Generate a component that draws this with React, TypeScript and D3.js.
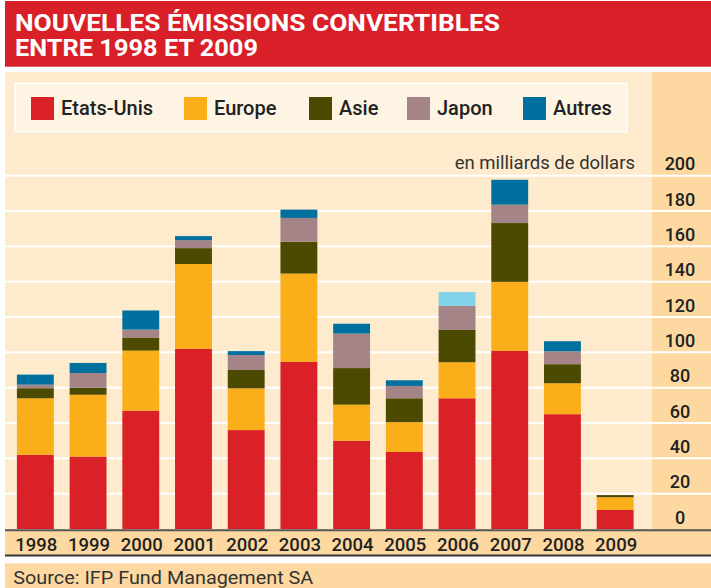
import React from "react";
import * as d3 from "d3";

const years = ["1998", "1999", "2000", "2001", "2002", "2003", "2004", "2005", "2006", "2007", "2008", "2009"];
const etatsUnis = [42, 41, 67, 102, 56, 94.6, 50, 43.6, 74, 100.8, 65, 10.8];
const europe = [32, 35, 34, 48, 23.6, 50, 20.4, 16.9, 20.4, 39.1, 17.5, 7.2];
const asie = [5.7, 4, 7.4, 9, 10.4, 18, 20.7, 13.5, 18.3, 33.3, 10.8, 1.2];
const japon = [2, 8.3, 4.5, 4.5, 8.5, 13.5, 19.5, 7, 13.6, 10.4, 7.3, 0];
const autres = [5.7, 5.7, 10.8, 2.3, 2.2, 4.7, 5.6, 3.2, 7.8, 14.1, 5.7, 0];
const seriesNames = ["Etats-Unis", "Europe", "Asie", "Japon", "Autres"];
const yTicks = [0, 20, 40, 60, 80, 100, 120, 140, 160, 180, 200];
const lightAutresYears = ["2006"];

const colors: Record<string, string> = {
  "Etats-Unis": "#da2128",
  Europe: "#f9ae1a",
  Asie: "#4b4a00",
  Japon: "#a48486",
  Autres: "#00719f",
};
const lightAutres = "#80d2e8";

const W = 711;
const H = 588;
const FONT = "Roboto, 'DejaVu Sans', sans-serif";

export default function App() {
  const table = years.map((y, i) => ({
    year: y,
    "Etats-Unis": etatsUnis[i],
    Europe: europe[i],
    Asie: asie[i],
    Japon: japon[i],
    Autres: autres[i],
  }));
  const stacked = d3.stack<any>().keys(seriesNames)(table);

  const x = d3.scaleBand<string>().domain(years).range([9, 641.5]).paddingInner(0.3).paddingOuter(0.15);
  const y = d3.scaleLinear().domain([0, 200]).range([529, 175.7]);

  const legendX = [31, 184, 309, 407, 523];

  return (
    <svg width={W} height={H} style={{ position: "absolute", left: 0, top: 0, display: "block" }} fontFamily={FONT}>
      <rect x={0} y={0} width={W} height={H} fill="#ffffff" />
      {/* title band */}
      <rect x={5} y={1} width={W - 5} height={65.7} fill="#d92029" />
      <text x={15} y={30.7} fill="#fff" fontWeight={700} fontSize={23.5} textLength={485} lengthAdjust="spacingAndGlyphs">
        NOUVELLES ÉMISSIONS CONVERTIBLES
      </text>
      <text x={15} y={56} fill="#fff" fontWeight={700} fontSize={23.5} textLength={243} lengthAdjust="spacingAndGlyphs">
        ENTRE 1998 ET 2009
      </text>

      {/* chart background */}
      <rect x={5} y={72} width={W - 5} height={458} fill="#feebcd" />
      <rect x={652} y={72} width={W - 652} height={458} fill="#fdd9a1" />

      {/* legend */}
      <rect x={15} y={83.3} width={612} height={48.4} fill="#fef4e3" stroke="#ffffff" strokeWidth={1.5} />
      {seriesNames.map((s, i) => (
        <g key={s}>
          <rect x={legendX[i]} y={97} width={23} height={23} fill={colors[s]} />
          <text x={legendX[i] + 30} y={114.5} fontSize={20} fill="#222" fontWeight={500}>
            {s}
          </text>
        </g>
      ))}

      {/* gridlines */}
      {yTicks.filter((t) => t > 0).map((t) => (
        <line key={t} x1={5} x2={W} y1={y(t)} y2={y(t)} stroke="#ffffff" strokeWidth={2} />
      ))}

      <text x={635} y={169} textAnchor="end" fontSize={18.5} fill="#333">
        en milliards de dollars
      </text>

      {/* bars */}
      {stacked.map((layer) => (
        <g key={layer.key}>
          {layer.map((d: any, i: number) => {
            const yr = years[i];
            const h = y(d[0]) - y(d[1]);
            if (h <= 0) return null;
            const fill = layer.key === "Autres" && lightAutresYears.includes(yr) ? lightAutres : colors[layer.key];
            return <rect key={yr} x={x(yr)} y={y(d[1])} width={x.bandwidth()} height={h} fill={fill} />;
          })}
        </g>
      ))}

      {/* y tick labels */}
      {yTicks.map((t) => (
        <text key={t} x={680} y={y(t) - 5.5} textAnchor="middle" fontSize={18} fontWeight={500} fill="#222">
          {t}
        </text>
      ))}

      {/* x axis band */}
      <rect x={5} y={530} width={W - 5} height={25} fill="#fdd9a1" />
      <line x1={5} x2={W} y1={530.2} y2={530.2} stroke="#555" strokeWidth={2} />
      <line x1={5} x2={W} y1={555.5} y2={555.5} stroke="#333" strokeWidth={2.2} />
      {years.map((yr) => (
        <text key={yr} x={(x(yr) as number) + x.bandwidth() / 2 + 1} y={550.5} textAnchor="middle" fontSize={18.5} fontWeight={500} fill="#222">
          {yr}
        </text>
      ))}

      {/* source band */}
      <rect x={5} y={563.3} width={W - 5} height={H - 563.3} fill="#fdd9a1" />
      <text x={13.3} y={583.5} fontSize={19} fill="#333" textLength={300} lengthAdjust="spacingAndGlyphs">
        Source: IFP Fund Management SA
      </text>
    </svg>
  );
}
